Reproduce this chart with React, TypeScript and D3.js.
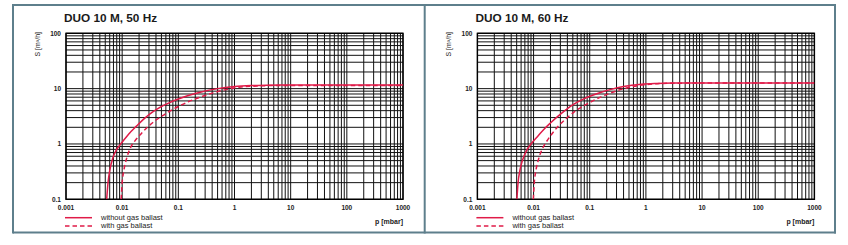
import React from "react";
import * as d3 from "d3";

const W = 848;
const H = 245;

const titles = ["DUO 10 M, 50 Hz", "DUO 10 M, 60 Hz"];
const xTickValues = [0.001, 0.01, 0.1, 1, 10, 100, 1000];
const xTickLabels = ["0.001", "0.01", "0.1", "1", "10", "100", "1000"];
const yTickValues = [0.1, 1, 10, 100];
const yTickLabels = ["0.1", "1", "10", "100"];
const legendLabels = ["without gas ballast", "with gas ballast"];
const xTitle = "p [mbar]";
const yTitle = "S [m³/h]";

// 50 Hz
const p50Solid = [0.0053, 0.0056, 0.006, 0.0068, 0.008, 0.0098, 0.013, 0.018, 0.025, 0.035, 0.047, 0.07, 0.1, 0.15, 0.245, 0.5, 1.0, 2, 4, 10, 1000];
const s50Solid = [0.1, 0.2, 0.33, 0.55, 0.8, 1.05, 1.5, 2.1, 2.9, 3.8, 4.6, 5.6, 6.5, 7.5, 8.6, 10.0, 10.9, 11.35, 11.55, 11.65, 11.65];
const p50Dashed = [0.0096, 0.01, 0.0107, 0.012, 0.014, 0.017, 0.022, 0.028, 0.037, 0.05, 0.07, 0.1, 0.15, 0.245, 0.4, 0.7, 1.2, 2.5, 6, 1000];
const s50Dashed = [0.1, 0.2, 0.33, 0.55, 0.85, 1.15, 1.55, 2.0, 2.55, 3.15, 3.9, 4.75, 5.8, 7.0, 8.3, 9.6, 10.6, 11.15, 11.4, 11.45];

// 60 Hz
const p60Solid = [0.00505, 0.0053, 0.0057, 0.0064, 0.0075, 0.009, 0.012, 0.0155, 0.02, 0.027, 0.037, 0.053, 0.075, 0.106, 0.16, 0.24, 0.4, 0.83, 1.5, 3, 10, 1000];
const s60Solid = [0.1, 0.2, 0.33, 0.52, 0.76, 1.0, 1.4, 1.87, 2.4, 3.15, 4.1, 5.3, 6.4, 7.45, 8.6, 9.7, 10.9, 12.0, 12.4, 12.6, 12.65, 12.65];
const p60Dashed = [0.0099, 0.0103, 0.011, 0.0122, 0.014, 0.0165, 0.021, 0.027, 0.037, 0.053, 0.075, 0.106, 0.16, 0.24, 0.38, 0.55, 1.0, 1.6, 3, 8, 1000];
const s60Dashed = [0.1, 0.2, 0.33, 0.52, 0.78, 1.05, 1.5, 2.05, 2.8, 3.8, 4.8, 5.8, 7.1, 8.4, 9.8, 10.75, 11.8, 12.3, 12.5, 12.6, 12.6];

const panelsData = [
  { title: titles[0], solid: [p50Solid, s50Solid], dashed: [p50Dashed, s50Dashed] },
  { title: titles[1], solid: [p60Solid, s60Solid], dashed: [p60Dashed, s60Dashed] },
];

const FRAME = "#5e7f8c";
const RED = "#e01b48";
const FONT = "'Liberation Sans', Arial, Helvetica, sans-serif";

function minorValues(lo: number, hi: number) {
  const out: number[] = [];
  for (let e = Math.log10(lo); e < Math.log10(hi) - 0.001; e++) {
    const base = Math.pow(10, Math.round(e));
    for (let k = 1; k <= 9; k++) out.push(base * k);
  }
  out.push(hi);
  return out;
}

function Panel({ dx, data, id }: { dx: number; data: any; id: string }) {
  const left = 66 + dx;
  const right = 403 + dx;
  const top = 33.3;
  const bottom = 199.3;
  const x = d3.scaleLog().domain([0.001, 1000]).range([left, right]);
  const y = d3.scaleLog().domain([0.1, 100]).range([bottom, top]);
  const line = d3
    .line<[number, number]>()
    .x((d) => x(d[0]))
    .y((d) => y(d[1]))
    .curve(d3.curveMonotoneX);
  const pts = (arr: number[][]) => arr[0].map((p, i) => [p, arr[1][i]] as [number, number]);
  const xv = minorValues(0.001, 1000);
  const yv = minorValues(0.1, 100);
  return (
    <g>
      <text x={64 + dx} y={21.7} fontFamily={FONT} fontWeight="bold" fontSize={11.8} fill="#1a1a1a">
        {data.title}
      </text>
      <defs>
        <clipPath id={id}>
          <rect x={left} y={top} width={right - left} height={bottom - top} />
        </clipPath>
      </defs>
      {xv.map((v, i) => (
        <line key={"vx" + i} x1={x(v)} x2={x(v)} y1={top} y2={bottom} stroke="#111" strokeWidth={1} />
      ))}
      {yv.map((v, i) => (
        <line key={"hy" + i} x1={left} x2={right} y1={y(v)} y2={y(v)} stroke="#111" strokeWidth={1} />
      ))}
      <rect x={left} y={top} width={right - left} height={bottom - top} fill="none" stroke="#000" strokeWidth={1.4} />
      <g clipPath={`url(#${id})`}>
        <path d={line(pts(data.dashed)) || ""} fill="none" stroke={RED} strokeWidth={1.5} strokeDasharray="4.5,3" />
        <path d={line(pts(data.solid)) || ""} fill="none" stroke={RED} strokeWidth={1.5} />
      </g>
      {xTickValues.map((v, i) => (
        <text key={"xt" + i} x={x(v)} y={210.3} textAnchor="middle" fontFamily={FONT} fontWeight="bold" fontSize={6.5} fill="#222">
          {xTickLabels[i]}
        </text>
      ))}
      {yTickValues.map((v, i) => (
        <text key={"yt" + i} x={left - 5} y={y(v) + 2.3} textAnchor="end" fontFamily={FONT} fontWeight="bold" fontSize={6.5} fill="#222">
          {yTickLabels[i]}
        </text>
      ))}
      <text
        transform={`translate(${39.5 + dx},${32}) rotate(-90)`}
        textAnchor="end"
        fontFamily={FONT}
        fontSize={7}
        fill="#222"
      >
        {yTitle}
      </text>
      <text x={right} y={223.8} textAnchor="end" fontFamily={FONT} fontWeight="bold" fontSize={7} fill="#222">
        {xTitle}
      </text>
      <line x1={65 + dx} x2={92 + dx} y1={217.7} y2={217.7} stroke={RED} strokeWidth={1.5} />
      <line x1={65 + dx} x2={92 + dx} y1={226} y2={226} stroke={RED} strokeWidth={1.5} strokeDasharray="4.5,3" />
      <text x={101 + dx} y={219.8} fontFamily={FONT} fontSize={7.5} fill="#222">
        {legendLabels[0]}
      </text>
      <text x={101 + dx} y={228.3} fontFamily={FONT} fontSize={7.5} fill="#222">
        {legendLabels[1]}
      </text>
    </g>
  );
}

export default function App() {
  const dx = 411.4;
  return (
    <svg width={W} height={H} style={{ position: "absolute", left: 0, top: 0, background: "#fff" }}>
      <rect x={0} y={0} width={W} height={H} fill="#fff" />
      <line x1={13} x2={836} y1={5} y2={5} stroke={FRAME} strokeWidth={2} />
      <line x1={13} x2={836} y1={232.5} y2={232.5} stroke={FRAME} strokeWidth={2} />
      <line x1={13} x2={13} y1={4} y2={233.5} stroke={FRAME} strokeWidth={2} />
      <line x1={835} x2={835} y1={4} y2={233.5} stroke={FRAME} strokeWidth={2} />
      <line x1={424.7} x2={424.7} y1={4} y2={233.5} stroke={FRAME} strokeWidth={2} />
      {panelsData.map((p, i) => (
        <Panel key={i} dx={i * dx} data={p} id={"clip" + i} />
      ))}
    </svg>
  );
}
